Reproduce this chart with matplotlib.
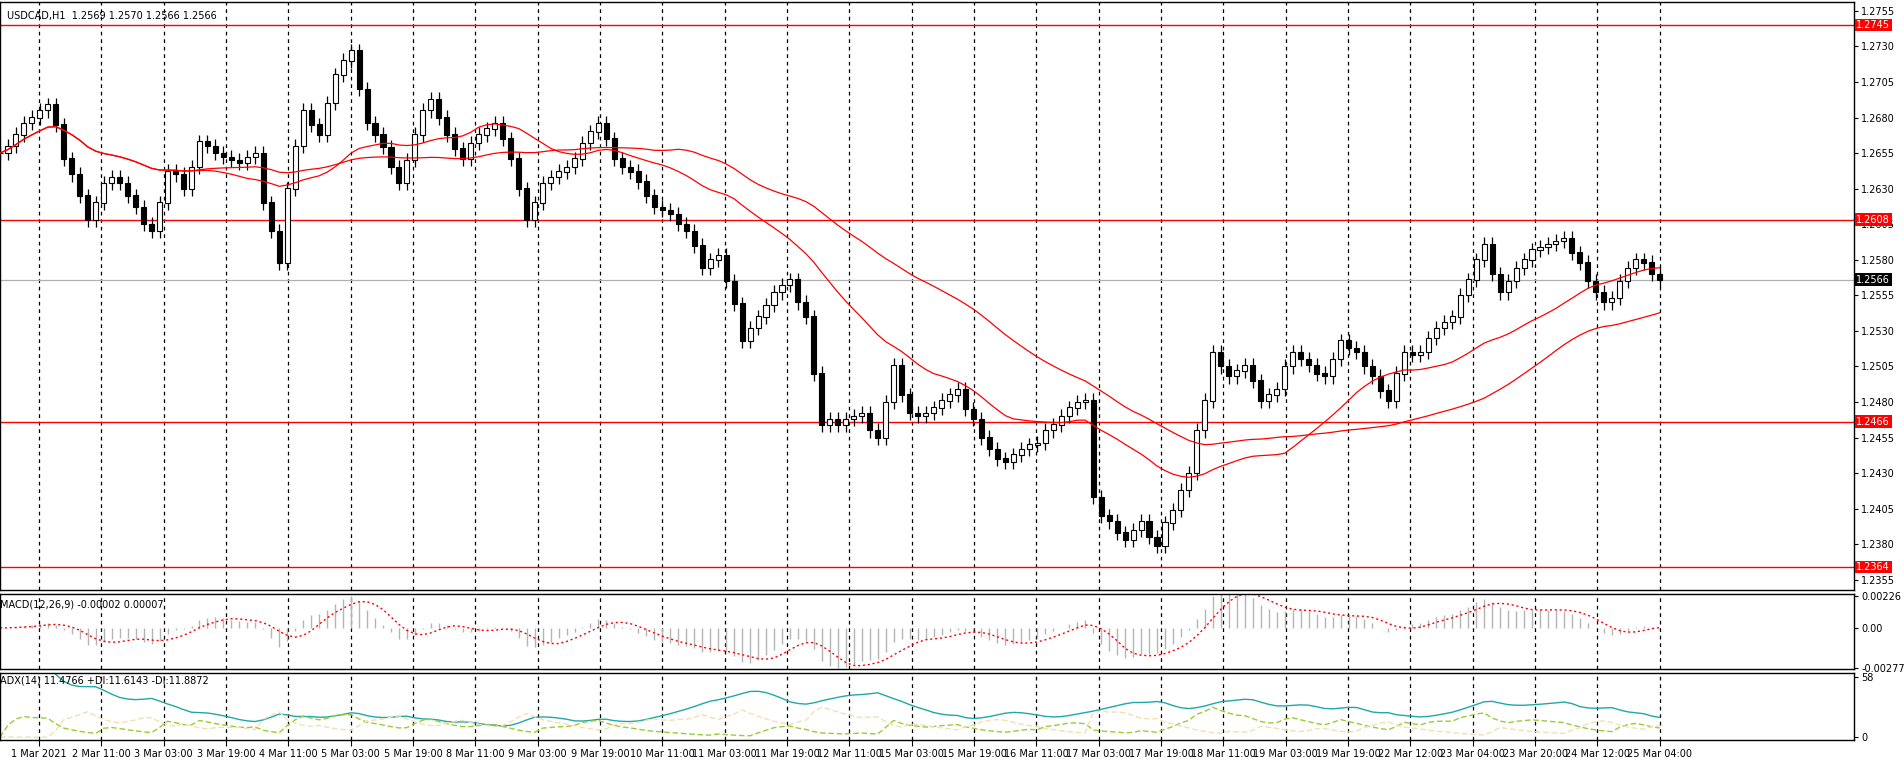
import numpy as np
import pandas as pd
import matplotlib
matplotlib.use("Agg")
import matplotlib.pyplot as plt

# closes in pips above 1.2300, one value per ~2 H1 bars
closes_pips = [
    355, 360, 368, 376, 380, 385, 389, 375, 351, 340, 325, 308, 320, 334, 338, 334,
    325, 317, 305, 300, 320, 342, 340, 330, 345, 363, 360, 355, 352, 350, 348, 352,
    355, 320, 300, 278, 330, 360, 385, 375, 368, 390, 410, 420, 427, 400, 376, 368,
    359, 345, 334, 350, 368, 385, 393, 380, 368, 358, 351, 362, 368, 372, 376, 365,
    351, 330, 308, 320, 334, 338, 342, 345, 351, 362, 370, 376, 365, 351, 345, 342,
    335, 325, 317, 315, 312, 305, 300, 290, 274, 280, 283, 265, 249, 223, 232, 240,
    248, 257, 262, 266, 250, 240, 200, 164, 168, 164, 168, 170, 172, 160, 155, 180,
    206, 185, 172, 170, 172, 176, 181, 185, 189, 175, 168, 155, 147, 140, 138, 143,
    147, 150, 151, 160, 164, 170, 176, 180, 181, 113, 100, 96, 88, 83, 90, 96,
    85, 79, 95, 104, 118, 130, 160, 181, 215, 205, 198, 202, 206, 195, 181, 185,
    189, 205, 215, 210, 206, 200, 198, 210, 223, 218, 215, 205, 198, 188, 181, 200,
    215, 213, 215, 225, 232, 236, 240, 255, 266, 280, 291, 270, 257, 265, 274, 280,
    287, 289, 291, 293, 295, 285, 278, 265, 257, 250, 253, 265, 274, 280, 278, 270,
    266,
]
wick_pips = 5
tick_labels = ["1 Mar 2021", "2 Mar 11:00", "3 Mar 03:00", "3 Mar 19:00", "4 Mar 11:00",
               "5 Mar 03:00", "5 Mar 19:00", "8 Mar 11:00", "9 Mar 03:00", "9 Mar 19:00",
               "10 Mar 11:00", "11 Mar 03:00", "11 Mar 19:00", "12 Mar 11:00", "15 Mar 03:00",
               "15 Mar 19:00", "16 Mar 11:00", "17 Mar 03:00", "17 Mar 19:00", "18 Mar 11:00",
               "19 Mar 03:00", "19 Mar 19:00", "22 Mar 12:00", "23 Mar 04:00", "23 Mar 20:00",
               "24 Mar 12:00", "25 Mar 04:00"]
levels = [1.2745, 1.2608, 1.2466, 1.2364]
last_price = 1.2566

close = 1.23 + np.array(closes_pips) / 10000.0
n = len(close)
openp = np.concatenate([[close[0]], close[:-1]])
high = np.maximum(openp, close) + wick_pips / 10000.0
low = np.minimum(openp, close) - wick_pips / 10000.0
step = 426.0 / (n - 1)
xs = -10 + step * np.arange(n)

s = pd.Series(close)
ma_fast = s.rolling(25, min_periods=1).mean()
ma_slow = s.rolling(50, min_periods=1).mean()
macd = s.ewm(span=6).mean() - s.ewm(span=13).mean()
signal = macd.rolling(5, min_periods=1).mean()

h, l, c = pd.Series(high), pd.Series(low), s
up = h.diff()
dn = -l.diff()
pdm = np.where((up > dn) & (up > 0), up, 0.0)
mdm = np.where((dn > up) & (dn > 0), dn, 0.0)
tr = pd.concat([h - l, (h - c.shift()).abs(), (l - c.shift()).abs()], axis=1).max(axis=1)
atr = tr.ewm(alpha=1 / 7).mean()
pdi = 100 * pd.Series(pdm).ewm(alpha=1 / 7).mean() / atr * 0.55
mdi = 100 * pd.Series(mdm).ewm(alpha=1 / 7).mean() / atr * 0.55
dx = 100 * (pdi - mdi).abs() / (pdi + mdi)
adx = dx.ewm(alpha=1 / 10).mean() * 0.7

plt.rcParams['font.family'] = ['DejaVu Sans']
plt.rcParams['font.size'] = 7
fig = plt.figure(figsize=(19.04, 7.6), dpi=100)
L, R = 0.0, 0.974
ax = fig.add_axes([L, 0.224, R - L, 0.773])
axm = fig.add_axes([L, 0.12, R - L, 0.098])
axa = fig.add_axes([L, 0.026, R - L, 0.088])
xlim = (-10, 466)
ticks = [16 * k for k in range(len(tick_labels))]

for a in (ax, axm, axa):
    a.set_xlim(*xlim)
    a.yaxis.tick_right()
    a.tick_params(axis='y', direction='out', length=3, pad=2, labelsize=7)
    a.set_xticks(ticks)
    for t in ticks:
        a.axvline(t, color='black', ls=(0, (3, 3)), lw=0.9, zorder=0)
    for sp in a.spines.values():
        sp.set_linewidth(1.0)

ax.set_xticklabels([])
axm.set_xticklabels([])
ax.tick_params(axis='x', length=0)
axm.tick_params(axis='x', length=0)
axa.set_xticklabels(tick_labels, fontsize=7)
axa.tick_params(axis='x', length=4, direction='out', pad=2)

ax.vlines(xs, low, high, color='black', lw=0.9, zorder=2)
bull = close >= openp
body = np.abs(close - openp) + 0.00003
bot = np.minimum(openp, close)
ax.bar(xs[bull], body[bull], bottom=bot[bull], width=1.3, facecolor='white', edgecolor='black', lw=0.8, zorder=3)
ax.bar(xs[~bull], body[~bull], bottom=bot[~bull], width=1.3, facecolor='black', edgecolor='black', lw=0.8, zorder=3)
ax.plot(xs, ma_fast, color='red', lw=0.9, zorder=4)
ax.plot(xs, ma_slow, color='red', lw=0.9, zorder=4)
for lv in levels:
    ax.axhline(lv, color='red', lw=1.0, zorder=1)
    ax.text(1.001, lv, f"{lv:.4f}", transform=ax.get_yaxis_transform(), color='white', fontsize=7,
            va='center', ha='left', bbox=dict(boxstyle='square,pad=0.15', fc='red', ec='none'))
ax.axhline(last_price, color='#b0b0b0', lw=0.9, zorder=1)
ax.text(1.001, last_price, f"{last_price:.4f}", transform=ax.get_yaxis_transform(), color='white',
        fontsize=7, va='center', ha='left', bbox=dict(boxstyle='square,pad=0.15', fc='black', ec='none'))
ax.set_ylim(1.2348, 1.2761)
ax.set_yticks(np.arange(1.2355, 1.2756, 0.0025))
ax.yaxis.set_major_formatter(matplotlib.ticker.FormatStrFormatter('%.4f'))
ax.text(0.004, 0.985, "USDCAD,H1  1.2569 1.2570 1.2566 1.2566", transform=ax.transAxes,
        fontsize=7, va='top', ha='left')

axm.vlines(xs, 0, macd, color='#b4b4b4', lw=1.0)
axm.plot(xs, signal, color='red', ls=(0, (1.5, 2)), lw=1.0)
axm.set_ylim(-0.00285, 0.00235)
axm.set_yticks([0.00226, 0.0, -0.00277])
axm.set_yticklabels(["0.00226", "0.00", "-0.00277"])
axm.text(0.0, 0.93, "MACD(12,26,9) -0.00002 0.00007", transform=axm.transAxes, fontsize=7, va='top', ha='left')

axa.plot(xs, adx, color='#20a8a8', lw=1.0)
axa.plot(xs, pdi, color='#9acd32', lw=1.0, ls=(0, (4, 2)))
axa.plot(xs, mdi, color='#f5deb3', lw=1.0, ls=(0, (4, 2)))
axa.set_ylim(-3, 62)
axa.set_yticks([0, 58])
axa.text(0.0, 0.97, "ADX(14) 11.4766 +DI:11.6143 -DI:11.8872", transform=axa.transAxes, fontsize=7, va='top', ha='left')

fig.savefig("out.png", dpi=100)
